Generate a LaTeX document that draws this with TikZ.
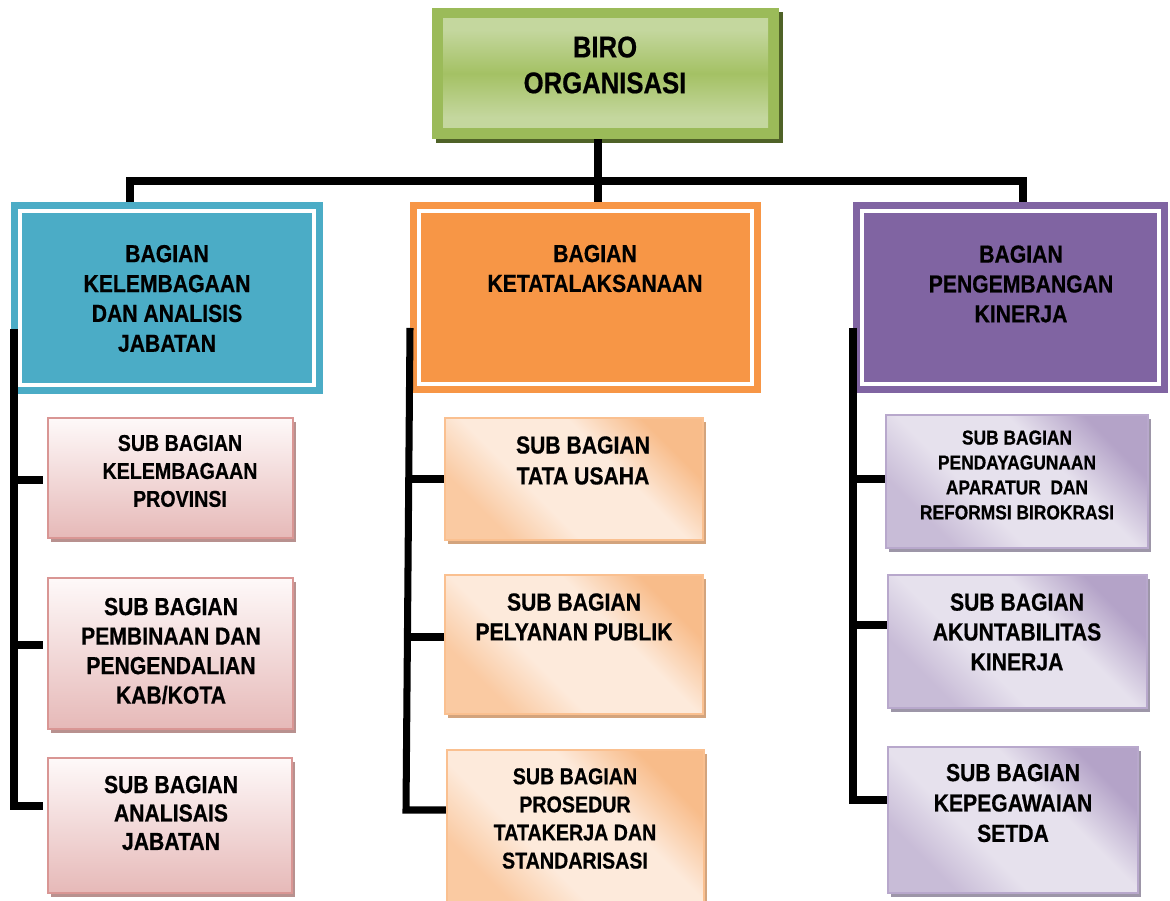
\documentclass[tikz,border=0pt]{standalone}
\usepackage{fontspec}
\setmainfont{Liberation Sans}[FakeStretch=0.86, BoldFeatures={FakeBold=0.6}]
\usetikzlibrary{calc,fit,shadows}

\definecolor{grOut}{HTML}{9BBB59}
\definecolor{grShd}{HTML}{4F6228}
\definecolor{grLt}{HTML}{C4D79E}
\definecolor{grMd}{HTML}{A4C164}
\definecolor{bluH}{HTML}{4BACC6}
\definecolor{orH}{HTML}{F79646}
\definecolor{puH}{HTML}{8064A2}
\definecolor{pkBd}{HTML}{D99694}
\definecolor{pkTop}{HTML}{FEF9F9}
\definecolor{pkBot}{HTML}{E6B9B8}
\definecolor{pkShd}{HTML}{B8918F}
\definecolor{orBd}{HTML}{FAC090}
\definecolor{orLt}{HTML}{FDEADB}
\definecolor{orDk}{HTML}{F8BC8A}
\definecolor{orShd}{HTML}{D3A47D}
\definecolor{puBd}{HTML}{B8A8CC}
\definecolor{puLt}{HTML}{E6E1ED}
\definecolor{puDk}{HTML}{B4A3C8}
\definecolor{puShd}{HTML}{9D96A8}

\pgfdeclareverticalshading{grnsh}{100bp}{color(0bp)=(grLt); color(30bp)=(grLt); color(50bp)=(grMd); color(70bp)=(grLt); color(100bp)=(grLt)}
\pgfdeclarehorizontalshading{orsh}{100bp}{color(0bp)=(orDk!70!orLt); color(27bp)=(orDk!70!orLt); color(40bp)=(orLt); color(60bp)=(orLt); color(74bp)=(orDk); color(100bp)=(orDk)}
\pgfdeclarehorizontalshading{push}{100bp}{color(0bp)=(puDk!60!puLt); color(27bp)=(puDk!60!puLt); color(40bp)=(puLt); color(60bp)=(puLt); color(74bp)=(puDk); color(100bp)=(puDk)}

\begin{document}
\begin{tikzpicture}[x=0.02cm,y=-0.02cm,
  txt/.style={align=center, inner sep=0, font=\bfseries\fontsize{14}{17}\selectfont},
  hdr/.style={inner sep=0, path picture={\draw[white,line width=1.8pt]
      ($(path picture bounding box.north west)+(9,9)$) rectangle
      ($(path picture bounding box.south east)+(-9,-9)$);}},
  pinkbox/.style={inner sep=0, draw=pkBd, line width=1.2pt, top color=pkTop, bottom color=pkBot,
      drop shadow={shadow xshift=1.8pt, shadow yshift=-2.4pt, opacity=1, fill=pkShd}},
  orbox/.style={inner sep=0, draw=orBd, line width=1.2pt, shading=orsh, shading angle=45,
      drop shadow={shadow xshift=1.8pt, shadow yshift=-2.4pt, opacity=1, fill=orShd}},
  pubox/.style={inner sep=0, draw=puBd, line width=1.2pt, shading=push, shading angle=45,
      drop shadow={shadow xshift=1.8pt, shadow yshift=-2.4pt, opacity=1, fill=puShd}},
  conn/.style={line width=4pt, black}]
\useasboundingbox (0,0) rectangle (1170,901);
\clip (0,0) rectangle (1170,901);

% top box
\node[fit={(432,8)(779,139)}, inner sep=0, fill=grOut,
      drop shadow={shadow xshift=2.3pt, shadow yshift=-2.3pt, opacity=1, fill=grShd}] (biro) {};
\node[fit={(443,19)(768,128)}, inner sep=0, shading=grnsh] (biroIn) {};
\node[txt, font=\bfseries\fontsize{17}{20.4}\selectfont] (biroT) at (605,65) {BIRO\\ORGANISASI};

% head boxes
\node[hdr, fill=bluH, fit={(11,202)(323,394)}] (kel) {};
\node[hdr, fill=orH, fit={(410,202)(761,393)}] (tata) {};
\node[hdr, fill=puH, fit={(853,202)(1168,393)}] (kin) {};
\node[txt] (kelT) at (167,298.5) {BAGIAN\\KELEMBAGAAN\\DAN ANALISIS\\JABATAN};
\node[txt] (tataT) at (595,268.5) {BAGIAN\\KETATALAKSANAAN};
\node[txt] (kinT) at (1021,284) {BAGIAN\\PENGEMBANGAN\\KINERJA};

% left sub boxes
\node[pinkbox, fit={(48,418)(293,538)}] (L1) {};
\node[pinkbox, fit={(48,578)(293,729)}] (L2) {};
\node[pinkbox, fit={(48,758)(292,893)}] (L3) {};
\node[txt, font=\bfseries\fontsize{13}{15.9}\selectfont] (L1T) at (180,471) {SUB BAGIAN\\KELEMBAGAAN\\PROVINSI};
\node[txt, font=\bfseries\fontsize{14}{16.8}\selectfont] (L2T) at (171,651) {SUB BAGIAN\\PEMBINAAN DAN\\PENGENDALIAN\\KAB/KOTA};
\node[txt, font=\bfseries\fontsize{14}{16.2}\selectfont] (L3T) at (171,813) {SUB BAGIAN\\ANALISAIS\\JABATAN};

% middle sub boxes
\node[orbox, fit={(445,418)(703,540)}] (M1) {};
\node[orbox, fit={(445,575)(703,714)}] (M2) {};
\node[orbox, fit={(447,750)(704,912)}] (M3) {};
\node[txt, font=\bfseries\fontsize{14}{17.6}\selectfont] (M1T) at (583,460.5) {SUB BAGIAN\\TATA USAHA};
\node[txt] (M2T) at (574,617) {SUB BAGIAN\\PELYANAN PUBLIK};
\node[txt, font=\bfseries\fontsize{13}{16}\selectfont] (M3T) at (575,818.5) {SUB BAGIAN\\PROSEDUR\\TATAKERJA DAN\\STANDARISASI};

% right sub boxes
\node[pubox, fit={(886,415)(1148,548)}] (R1) {};
\node[pubox, fit={(888,575)(1147,708)}] (R2) {};
\node[pubox, fit={(888,747)(1138,893)}] (R3) {};
\node[txt, font=\bfseries\fontsize{11.5}{14.2}\selectfont] (R1T) at (1017,475) {SUB BAGIAN\\PENDAYAGUNAAN\\APARATUR\ \ DAN\\REFORMSI BIROKRASI};
\node[txt] (R2T) at (1017,632) {SUB BAGIAN\\AKUNTABILITAS\\KINERJA};
\node[txt, font=\bfseries\fontsize{14}{17.3}\selectfont] (R3T) at (1013,803) {SUB BAGIAN\\KEPEGAWAIAN\\SETDA};

% connectors: top level
\coordinate (jn) at (598,181);
\coordinate (bl) at (130,181);
\coordinate (br) at (1023,181);
\draw[conn] (jn |- biro.south) -- (jn |- tata.north);
\draw[conn] (bl |- kel.north) -- (bl) -- (br) -- (br |- kin.north);

% left spine
\coordinate (lTop) at (14,329);
\coordinate (lBot) at (14,806);
\coordinate (lEnd) at (43,806);
\coordinate (lt1) at (43,480);
\coordinate (lt2) at (43,645);
\draw[conn] (lTop) -- (lBot) -- (lEnd);
\draw[conn] (lt1 -| lTop) -- (lt1);
\draw[conn] (lt2 -| lTop) -- (lt2);

% middle spine
\coordinate (mTop) at (410,328);
\coordinate (mBot) at (406,810);
\coordinate (mt1) at (408.7,479);
\coordinate (mt2) at (407.4,637);
\draw[conn] (mTop) -- (mBot) -- (mBot -| M3.west);
\draw[conn] (mt1) -- (mt1 -| M1.west);
\draw[conn] (mt2) -- (mt2 -| M2.west);

% right spine
\coordinate (rTop) at (853,328);
\coordinate (rBot) at (853,800);
\coordinate (rt1) at (853,479);
\coordinate (rt2) at (853,625);
\draw[conn] (rTop) -- (rBot) -- (rBot -| R3.west);
\draw[conn] (rt1) -- (rt1 -| R1.west);
\draw[conn] (rt2) -- (rt2 -| R2.west);
\end{tikzpicture}
\end{document}
